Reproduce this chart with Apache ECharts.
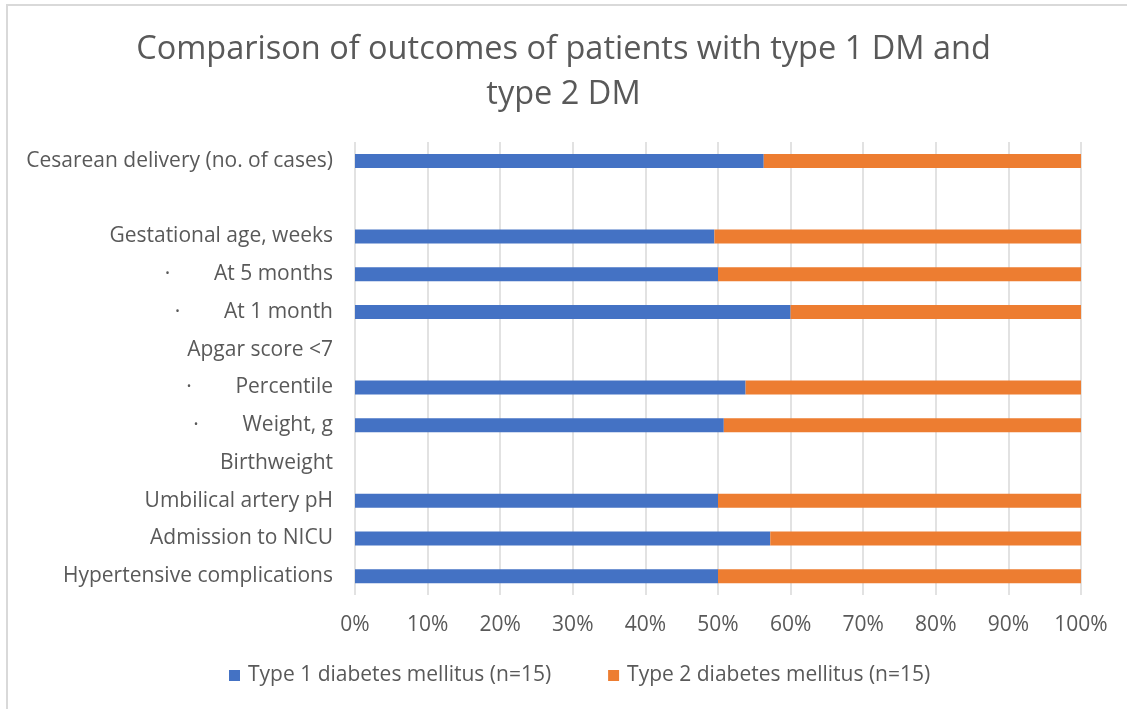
<!DOCTYPE html>
<html>
<head>
<meta charset="utf-8">
<script src="https://cdn.jsdelivr.net/npm/echarts@6/dist/echarts.min.js"></script>
<style>
  html, body { margin: 0; padding: 0; background: #fff; }
  #chart { width: 1127px; height: 709px; }
</style>
</head>
<body>
<div id="chart"></div>
<script>
const categories = [
  'Cesarean delivery (no. of cases)',
  '',
  'Gestational age, weeks',
  '·        At 5 months',
  '·        At 1 month',
  'Apgar score <7',
  '·        Percentile',
  '·        Weight, g',
  'Birthweight',
  'Umbilical artery pH',
  'Admission to NICU',
  'Hypertensive complications',
];
// share of type 1 group, in percent (null = heading row)
const type1Share = [56.3, null, 49.5, 50, 60, null, 53.8, 50.8, null, 50, 57.2, 50];
const type2Share = type1Share.map(v => (v === null ? null : +(100 - v).toFixed(1)));
const seriesNames = ['Type 1 diabetes mellitus (n=15)', 'Type 2 diabetes mellitus (n=15)'];

const textColor = '#595959';
const font = 'Open Sans';

const chart = echarts.init(document.getElementById('chart'));
chart.setOption({
  animation: false,
  color: ['#4472C4', '#ED7D31'],
  title: {
    text: 'Comparison of outcomes of patients with type 1 DM and\ntype 2 DM',
    left: 'center',
    top: 22,
    textStyle: { color: textColor, fontFamily: font, fontSize: 32.5, fontWeight: 'normal', lineHeight: 45 },
  },
  legend: {
    bottom: 18,
    left: 224,
    itemWidth: 11,
    itemHeight: 11,
    itemGap: 57,
    icon: 'rect',
    textStyle: { color: textColor, fontFamily: font, fontSize: 21, padding: [0, 0, 0, 3] },
    data: seriesNames,
  },
  grid: { left: 355, right: 46, top: 142, bottom: 114 },
  xAxis: {
    type: 'value',
    min: 0,
    max: 100,
    interval: 10,
    axisLine: { show: false },
    axisTick: { show: false },
    splitLine: { lineStyle: { color: '#d9d9d9', width: 1.5 } },
    axisLabel: { formatter: '{value}%', color: textColor, fontFamily: font, fontSize: 21, margin: 20 },
  },
  yAxis: {
    type: 'category',
    inverse: true,
    data: categories,
    axisLine: { show: false },
    axisTick: { show: false },
    axisLabel: { color: textColor, fontFamily: font, fontSize: 21, margin: 22 },
  },
  series: [
    { name: seriesNames[0], type: 'bar', stack: 'total', barWidth: 14, data: type1Share },
    { name: seriesNames[1], type: 'bar', stack: 'total', barWidth: 14, data: type2Share },
  ],
  graphic: [
    { type: 'line', shape: { x1: 6, y1: 5, x2: 1127, y2: 5 }, style: { stroke: '#d9d9d9', lineWidth: 2 } },
    { type: 'line', shape: { x1: 7, y1: 5, x2: 7, y2: 709 }, style: { stroke: '#d9d9d9', lineWidth: 2 } },
  ],
});
</script>
</body>
</html>
